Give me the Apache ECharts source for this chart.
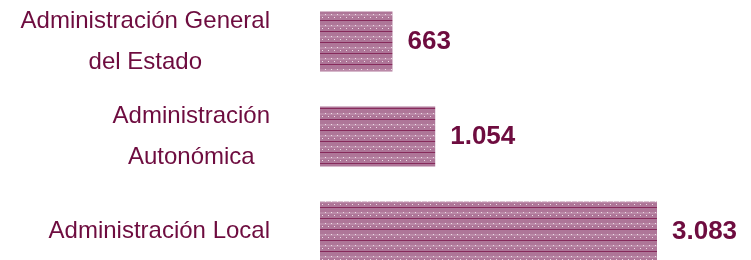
<!DOCTYPE html>
<html>
<head>
<meta charset="utf-8">
<script src="https://cdn.jsdelivr.net/npm/echarts@6/dist/echarts.min.js"></script>
<style>
  html, body { margin: 0; padding: 0; background: #fff; }
  #chart { width: 751px; height: 260px; }
</style>
</head>
<body>
<div id="chart"></div>
<script>
var categories = ["Administración General\ndel Estado", "Administración\nAutonómica", "Administración Local"];
var values = [663, 1054, 3083];

// patrón de la barra: rosa con rayas oscuras y puntos blancos
function makePattern() {
  var c = document.createElement("canvas");
  c.width = 6;
  c.height = 11;
  var ctx = c.getContext("2d");
  ctx.fillStyle = "#ae7698";
  ctx.fillRect(0, 0, 6, 11);
  ctx.fillStyle = "#bb8aa8";
  ctx.fillRect(0, 3, 6, 2);
  ctx.fillStyle = "#862a5b";
  ctx.fillRect(0, 9, 6, 1);
  ctx.fillStyle = "#eddde6";
  ctx.fillRect(1, 3, 1, 1);
  ctx.fillRect(4, 6, 1, 1);
  return c;
}

function fmt(v) {
  return String(v).replace(/\B(?=(\d{3})+(?!\d))/g, ".");
}

var myChart = echarts.init(document.getElementById("chart"));
var option = {
  backgroundColor: "#fff",
  animation: false,
  grid: { left: 320, right: 0, top: -6, height: 285, outerBoundsMode: "none", containLabel: false },
  xAxis: {
    type: "value",
    min: 0,
    max: 3943,
    show: false
  },
  yAxis: {
    type: "category",
    inverse: true,
    data: categories,
    axisLine: { show: false },
    axisTick: { show: false },
    splitLine: { show: false },
    axisLabel: {
      margin: 50,
      formatter: function (v) {
        return v.split("\n").map(function (s) { return "{a|" + s + "}"; }).join("\n");
      },
      rich: {
        a: {
          align: "center",
          color: "#6e0c3f",
          fontFamily: "Liberation Sans, Arial, sans-serif",
          fontSize: 24,
          lineHeight: 41
        }
      }
    }
  },
  series: [
    {
      type: "bar",
      data: values,
      barWidth: 60,
      itemStyle: {
        color: { image: makePattern(), repeat: "repeat" }
      },
      label: {
        show: true,
        position: "right",
        distance: 15,
        color: "#6e0c3f",
        fontFamily: "Liberation Sans, Arial, sans-serif",
        fontWeight: "bold",
        fontSize: 26,
        formatter: function (p) { return fmt(p.value); }
      }
    }
  ]
};
myChart.setOption(option);
</script>
</body>
</html>
